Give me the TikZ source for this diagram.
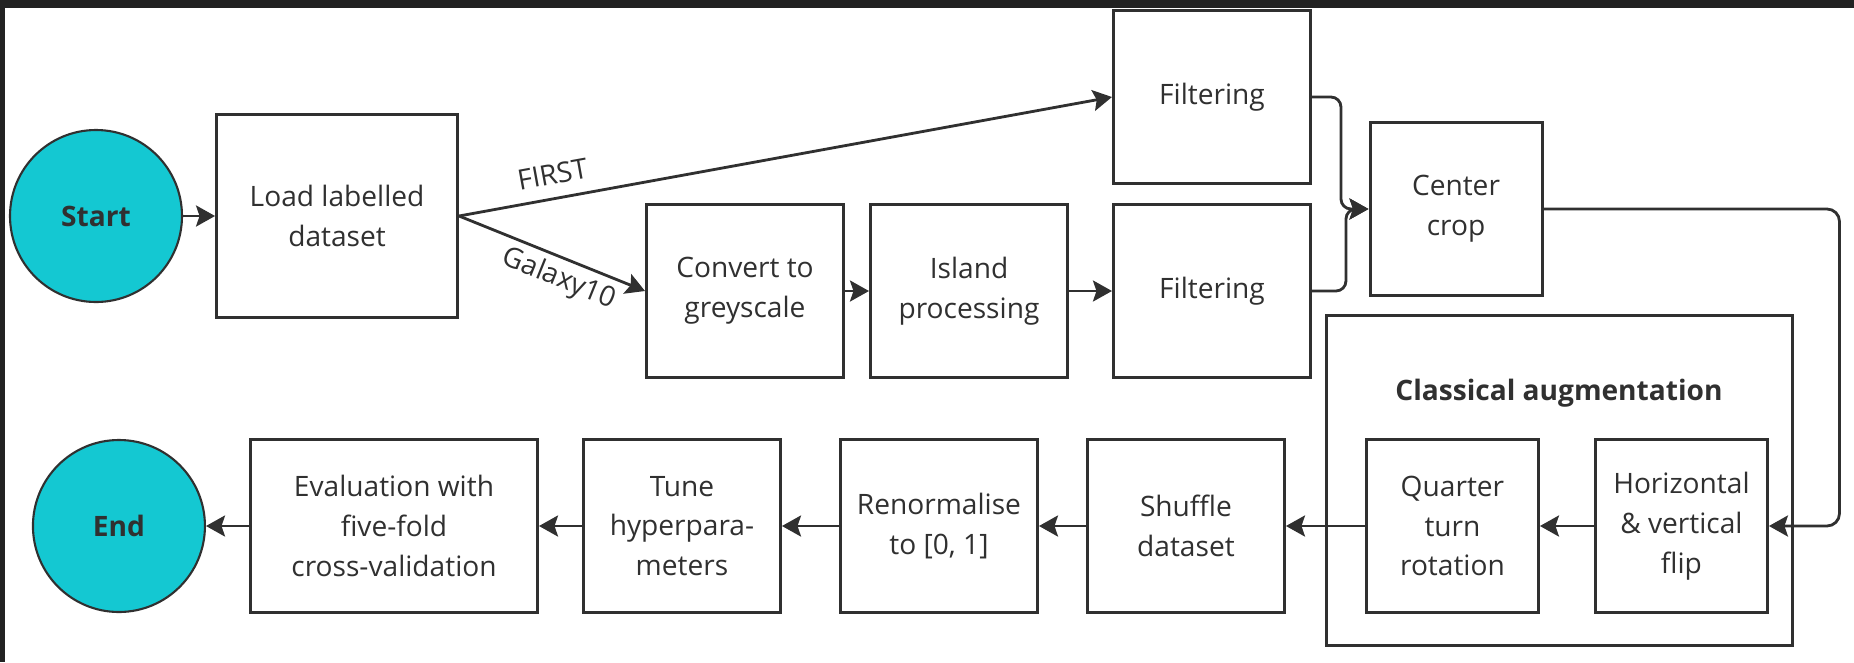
\documentclass[tikz,border=0pt]{standalone}
\usepackage{fontspec}
\setmainfont{Open Sans}
\usetikzlibrary{arrows.meta,positioning}
\definecolor{InkGrey}{RGB}{48,48,48}
\definecolor{FrameDark}{RGB}{34,34,34}
\definecolor{TealFill}{RGB}{20,200,210}
\tikzset{
  stepbox/.style={draw=InkGrey,line width=1.7pt,fill=white,minimum width=3.94cm,
    minimum height=3.46cm,align=center,inner sep=0pt},
  narrowbox/.style={stepbox,minimum width=3.44cm},
  terminal/.style={circle,draw=InkGrey,line width=1.2pt,fill=TealFill,
    minimum size=3.44cm,inner sep=0pt,font=\bfseries\fontsize{16}{22.7}\selectfont},
  groupbox/.style={draw=InkGrey,line width=1.7pt,minimum width=9.32cm,
    minimum height=6.6cm},
  arrow/.style={-{Stealth[length=0.38cm,width=0.42cm,inset=0.07cm]},
    line width=1.6pt,InkGrey},
  edgelabel/.style={font=\fontsize{16}{22.7}\selectfont,text=InkGrey}
}

\begin{document}
\begin{tikzpicture}[font=\fontsize{16}{22.7}\selectfont,text=InkGrey]
      \useasboundingbox (0,0) rectangle (37.08,-13.24);
      \fill[FrameDark] (0,0) rectangle (37.08,-0.16);
      \fill[FrameDark] (0,0) rectangle (0.1,-13.24);
      % top row
      \node[terminal] (start) at (1.92,-4.32) {Start};
      \node[stepbox,minimum width=4.82cm,minimum height=4.06cm,right=0.64cm of start]
        (load) {Load labelled\\dataset};
      \node[stepbox] (convert) at (14.9,-5.82) {Convert to\\greyscale};
      \node[stepbox,right=0.48cm of convert] (island) {Island\\processing};
      \node[stepbox,right=0.86cm of island] (filtbot) {Filtering};
      \node[stepbox,above=0.36cm of filtbot] (filttop) {Filtering};
      \node[narrowbox] (crop) at (29.12,-4.18) {Center\\crop};
      % bottom row
      \node[stepbox,minimum width=5.74cm] (eval) at (7.88,-10.52)
        {Evaluation with\\five-fold\\cross-validation};
      \node[terminal,left=0.86cm of eval] (end) {End};
      \node[stepbox,right=0.86cm of eval] (tune) {Tune\\hyperpara-\\meters};
      \node[stepbox,right=1.14cm of tune] (renorm) {Renormalise\\to [0, 1]};
      \node[stepbox,right=0.94cm of renorm] (shuffle) {Shuffle\\dataset};
      \node[narrowbox,right=1.58cm of shuffle] (quarter) {Quarter\\turn\\rotation};
      \node[narrowbox,right=1.08cm of quarter] (horiz) {Horizontal\\\& vertical\\flip};
      \node[groupbox] (augbox) at (31.18,-9.6) {};
      \node[font=\bfseries\fontsize{16}{22.7}\selectfont] (augtitle) at (31.18,-7.86)
        {Classical augmentation};
      % connectors
      \draw[arrow] (start) -- (load);
      \draw[arrow] (load.east) -- node[edgelabel,sloped,above=0.14cm,pos=0.15] {FIRST}
        (filttop.west);
      \draw[arrow] (load.east) -- node[edgelabel,sloped,below,pos=0.58] {Galaxy10}
        (convert.west);
      \draw[arrow] (convert) -- (island);
      \draw[arrow] (island) -- (filtbot);
      \draw[arrow,rounded corners=0.2cm] (filttop.east) -- ++(0.58,0) |- (crop.west);
      \draw[arrow,rounded corners=0.2cm] (filtbot.east) -- ++(0.68,0) |- (crop.west);
      \draw[arrow,rounded corners=0.25cm] (crop.east) -- ++(5.92,0) |- (horiz.east);
      \draw[arrow] (horiz) -- (quarter);
      \draw[arrow] (quarter) -- (shuffle);
      \draw[arrow] (shuffle) -- (renorm);
      \draw[arrow] (renorm) -- (tune);
      \draw[arrow] (tune) -- (eval);
      \draw[arrow] (eval) -- (end);
    \end{tikzpicture}
\end{document}
